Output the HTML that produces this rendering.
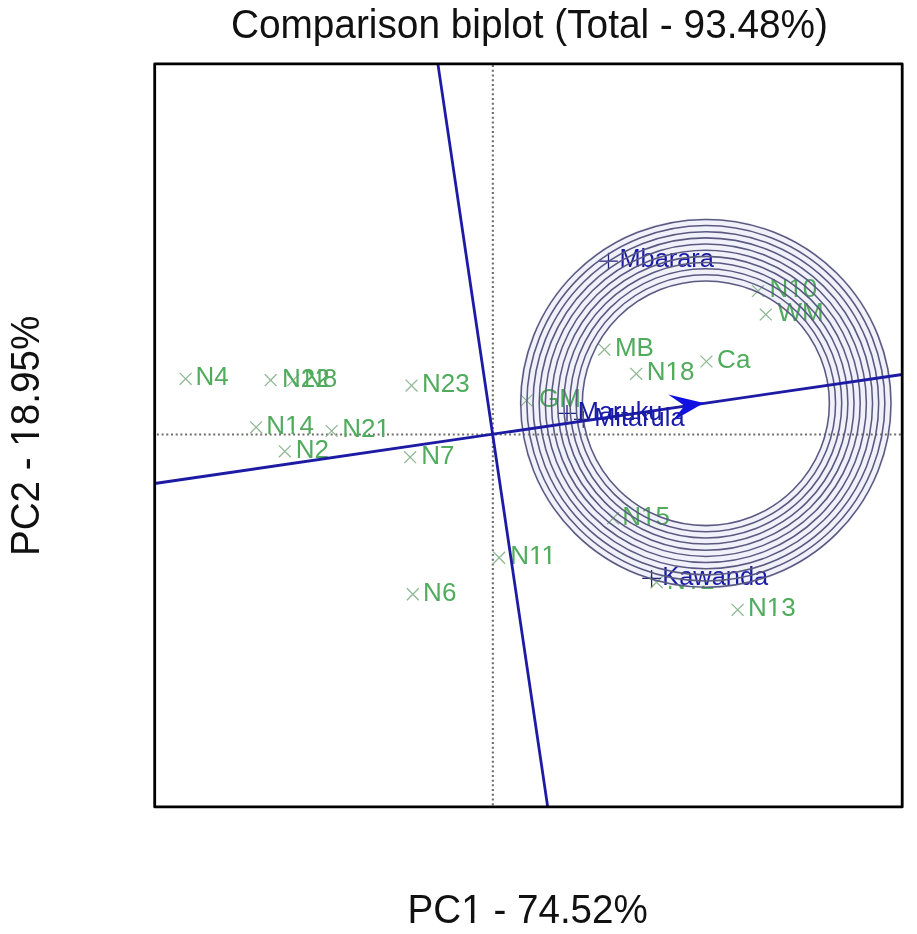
<!DOCTYPE html>
<html><head><meta charset="utf-8"><title>Comparison biplot</title><style>
html,body{margin:0;padding:0;background:#fff;}
svg{display:block;}
text{font-family:"Liberation Sans",Arial,sans-serif;}
</style></head><body>
<svg width="917" height="934" viewBox="0 0 917 934">
<defs><mask id="m1_1" maskUnits="userSpaceOnUse" x="-20" y="-57.9" width="280.2" height="84.9"><rect x="-10" y="-46.32" width="260.24" height="61.76" fill="#fff"/><rect x="55.48" y="-3.68" width="7.77" height="15.26" fill="#000"/><rect x="66.76" y="-3.68" width="7.61" height="15.26" fill="#000"/></mask><mask id="m1_2" maskUnits="userSpaceOnUse" x="-20" y="-57.9" width="280.2" height="84.9"><rect x="-10" y="-46.32" width="260.24" height="61.76" fill="#fff"/><rect x="111.23" y="-3.68" width="7.77" height="15.26" fill="#000"/><rect x="122.52" y="-3.68" width="7.61" height="15.26" fill="#000"/></mask><mask id="m1_7" maskUnits="userSpaceOnUse" x="-20" y="-39.0" width="87.7" height="57.2"><rect x="-10" y="-31.20" width="67.70" height="41.60" fill="#fff"/><rect x="20.04" y="-2.74" width="5.22" height="10.54" fill="#000"/><rect x="27.65" y="-2.74" width="5.13" height="10.54" fill="#000"/></mask><mask id="m1_8" maskUnits="userSpaceOnUse" x="-20" y="-39.0" width="87.7" height="57.2"><rect x="-10" y="-31.20" width="67.70" height="41.60" fill="#fff"/><rect x="34.50" y="-2.74" width="5.22" height="10.54" fill="#000"/><rect x="42.12" y="-2.74" width="5.13" height="10.54" fill="#000"/></mask><mask id="m1_13" maskUnits="userSpaceOnUse" x="-20" y="-39.0" width="87.7" height="57.2"><rect x="-10" y="-31.20" width="67.70" height="41.60" fill="#fff"/><rect x="20.04" y="-2.74" width="5.22" height="10.54" fill="#000"/><rect x="27.65" y="-2.74" width="5.13" height="10.54" fill="#000"/></mask><mask id="m1_15" maskUnits="userSpaceOnUse" x="-20" y="-39.0" width="87.7" height="57.2"><rect x="-10" y="-31.20" width="67.70" height="41.60" fill="#fff"/><rect x="20.04" y="-2.74" width="5.22" height="10.54" fill="#000"/><rect x="27.65" y="-2.74" width="5.13" height="10.54" fill="#000"/></mask><mask id="m1_17" maskUnits="userSpaceOnUse" x="-20" y="-39.0" width="87.7" height="57.2"><rect x="-10" y="-31.20" width="67.70" height="41.60" fill="#fff"/><rect x="20.04" y="-2.74" width="5.22" height="10.54" fill="#000"/><rect x="27.65" y="-2.74" width="5.13" height="10.54" fill="#000"/></mask><mask id="m1_18" maskUnits="userSpaceOnUse" x="-20" y="-39.0" width="85.8" height="57.2"><rect x="-10" y="-31.20" width="65.78" height="41.60" fill="#fff"/><rect x="20.04" y="-2.74" width="5.22" height="10.54" fill="#000"/><rect x="27.65" y="-2.74" width="5.13" height="10.54" fill="#000"/><rect x="32.57" y="-2.74" width="5.22" height="10.54" fill="#000"/><rect x="40.18" y="-2.74" width="5.13" height="10.54" fill="#000"/></mask><mask id="m1_20" maskUnits="userSpaceOnUse" x="-20" y="-39.0" width="87.7" height="57.2"><rect x="-10" y="-31.20" width="67.70" height="41.60" fill="#fff"/><rect x="20.04" y="-2.74" width="5.22" height="10.54" fill="#000"/><rect x="27.65" y="-2.74" width="5.13" height="10.54" fill="#000"/></mask><mask id="m1_21" maskUnits="userSpaceOnUse" x="-20" y="-39.0" width="87.7" height="57.2"><rect x="-10" y="-31.20" width="67.70" height="41.60" fill="#fff"/><rect x="20.04" y="-2.74" width="5.22" height="10.54" fill="#000"/><rect x="27.65" y="-2.74" width="5.13" height="10.54" fill="#000"/></mask><clipPath id="n12clip" clipPathUnits="userSpaceOnUse"><rect x="-5" y="-2.7" width="60" height="10"/></clipPath></defs>
<rect width="917" height="934" fill="#fff"/>
<text transform="translate(230.9,38.1) scale(1,1.05)" font-size="38.8" fill="#111">Comparison biplot (Total - 93.48%)</text>
<text mask="url(#m1_1)" transform="translate(407.6,923.2) scale(1,1.03)" font-size="38.6" fill="#111">PC1 - 74.52%</text>
<text mask="url(#m1_2)" transform="translate(38.9,556) rotate(-90) scale(1,1.03)" font-size="38.6" fill="#111">PC2 - 18.95%</text>
<path d="M892.40 403.30A186.55 185.30 0 1 0 519.30 403.30A186.55 185.30 0 1 0 892.40 403.30ZM828.40 403.30A122.55 121.30 0 1 0 583.30 403.30A122.55 121.30 0 1 0 828.40 403.30Z" fill="#f1f1fb" fill-rule="evenodd"/>
<line x1="492.85" y1="65.1" x2="492.85" y2="805.5" stroke="#6e6e6e" stroke-width="2.1" stroke-dasharray="2 2.701"/>
<line x1="156.9" y1="434.5" x2="901" y2="434.5" stroke="#6e6e6e" stroke-width="2.1" stroke-dasharray="2 2.696"/>
<g stroke="#8fb894" stroke-width="1.3" fill="none"><path d="M179.7 372.9L191.6 384.8M191.6 372.9L179.7 384.8"/><path d="M264.8 374.2L276.6 386.1M276.6 374.2L264.8 386.1"/><path d="M287.2 374.2L299.1 386.1M299.1 374.2L287.2 386.1"/><path d="M405.6 379.6L417.5 391.5M417.5 379.6L405.6 391.5"/><path d="M250.2 421.4L262.1 433.2M262.1 421.4L250.2 433.2"/><path d="M325.7 425.1L337.6 436.9M337.6 425.1L325.7 436.9"/><path d="M278.9 445.4L290.8 457.3M290.8 445.4L278.9 457.3"/><path d="M404.2 451.2L416.1 463.1M416.1 451.2L404.2 463.1"/><path d="M520.5 394.6L532.4 406.4M532.4 394.6L520.5 406.4"/><path d="M598.4 343.6L610.3 355.5M610.3 343.6L598.4 355.5"/><path d="M630.2 367.9L642.2 379.8M642.2 367.9L630.2 379.8"/><path d="M700.5 355.6L712.4 367.4M712.4 355.6L700.5 367.4"/><path d="M752.0 285.1L764.0 296.9M764.0 285.1L752.0 296.9"/><path d="M759.8 308.6L771.8 320.4M771.8 308.6L759.8 320.4"/><path d="M607.1 512.4L619.0 524.3M619.0 512.4L607.1 524.3"/><path d="M493.2 551.8L505.1 563.7M505.1 551.8L493.2 563.7"/><path d="M406.9 588.2L418.8 600.2M418.8 588.2L406.9 600.2"/><path d="M650.6 576.2L662.6 588.2M662.6 576.2L650.6 588.2"/><path d="M731.7 603.9L743.6 615.8M743.6 603.9L731.7 615.8"/></g>
<g font-size="26" fill="#50ab5c"><text transform="translate(195.5,385.2) scale(1,1.0)">N4</text><text transform="translate(282.0,386.5) scale(1,1.0)">N22</text><text transform="translate(304.0,386.5) scale(1,1.0)">N8</text><text transform="translate(422.0,391.9) scale(1,1.0)">N23</text><text mask="url(#m1_7)" transform="translate(266.3,433.6) scale(1,1.0)">N14</text><text mask="url(#m1_8)" transform="translate(342.2,437.3) scale(1,1.0)">N21</text><text transform="translate(295.8,457.7) scale(1,1.0)">N2</text><text transform="translate(421.2,463.5) scale(1,1.0)">N7</text><text transform="translate(539.1,406.8) scale(1,1.0)">GM</text><text transform="translate(614.9,355.9) scale(1,1.0)">MB</text><text mask="url(#m1_13)" transform="translate(646.7,380.1) scale(1,1.0)">N18</text><text transform="translate(717.1,367.8) scale(1,1.0)">Ca</text><text mask="url(#m1_15)" transform="translate(769.5,297.3) scale(1,1.0)">N10</text><text transform="translate(777.4,320.8) scale(1,1.0)">WM</text><text mask="url(#m1_17)" transform="translate(622.2,524.6) scale(1,1.0)">N15</text><text mask="url(#m1_18)" transform="translate(510.3,564.0) scale(1,1.0)">N11</text><text transform="translate(423.1,600.5) scale(1,1.0)">N6</text><text mask="url(#m1_20)" transform="translate(667.0,588.5) scale(1,1.0)" clip-path="url(#n12clip)">N12</text><text mask="url(#m1_21)" transform="translate(747.9,616.1) scale(1,1.0)">N13</text></g>
<g stroke="#222280" stroke-width="1.3" fill="none"><path d="M599.2 261.1H617.8M608.5 252.8V269.4"/><path d="M557.7 413.3H576.3M567.0 405.0V421.6"/><path d="M574.0 419.4H592.6M583.3 411.1V427.7"/><path d="M642.3 578.4H660.9M651.6 570.1V586.7"/></g>
<g font-size="25.4" fill="#1a1aa8"><text transform="translate(619.4,267.3) scale(1,1.0)">Mbarara</text><text transform="translate(662.3,584.6) scale(1,1.0)">Kawanda</text></g>
<g fill="none" stroke="#5a5a80" stroke-width="1.55"><ellipse cx="705.85" cy="403.3" rx="123.55" ry="122.30"/><ellipse cx="705.85" cy="403.3" rx="129.71" ry="128.46"/><ellipse cx="705.85" cy="403.3" rx="135.87" ry="134.62"/><ellipse cx="705.85" cy="403.3" rx="142.03" ry="140.78"/><ellipse cx="705.85" cy="403.3" rx="148.19" ry="146.94"/><ellipse cx="705.85" cy="403.3" rx="154.35" ry="153.10"/><ellipse cx="705.85" cy="403.3" rx="160.51" ry="159.26"/><ellipse cx="705.85" cy="403.3" rx="166.67" ry="165.42"/><ellipse cx="705.85" cy="403.3" rx="172.83" ry="171.58"/><ellipse cx="705.85" cy="403.3" rx="178.99" ry="177.74"/><ellipse cx="705.85" cy="403.3" rx="185.15" ry="183.90"/></g>
<line x1="437.9" y1="63.9" x2="547.7" y2="806.9" stroke="#1d1aa4" stroke-width="2.8"/>
<line x1="154.7" y1="483.5" x2="902.2" y2="374.5" stroke="#1d1aa4" stroke-width="2.8"/>
<path d="M703.8 402.9L668.2 394.4L684.5 405.7L672.1 421.2Z" fill="#1010e0"/>
<g font-size="25.4" fill="#1a1aa8"><text transform="translate(577.8,419.5) scale(1,1.0)">Maruku</text><text transform="translate(594.2,425.6) scale(1,1.0)">Mitarula</text></g>
<rect x="154.7" y="63.9" width="747.5" height="743" fill="none" stroke="#000" stroke-width="2.8" stroke-linejoin="round"/>
</svg>
</body></html>
